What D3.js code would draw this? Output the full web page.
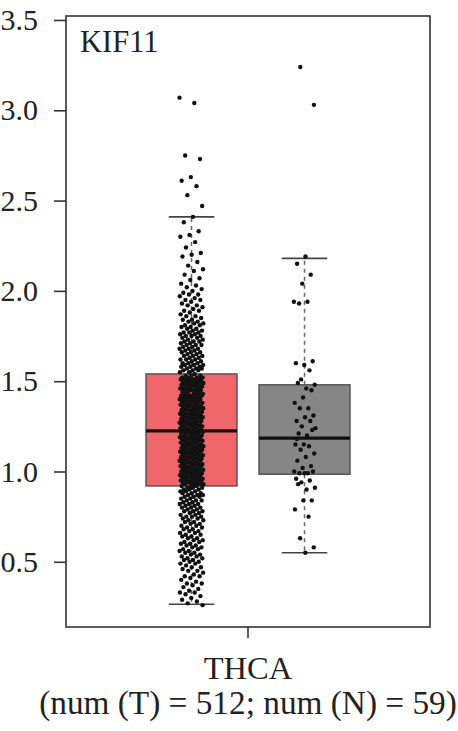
<!DOCTYPE html>
<html><head><meta charset="utf-8">
<script src="https://cdn.jsdelivr.net/npm/d3@7"></script>
<style>html,body{margin:0;padding:0;background:#fff;}svg{display:block;}</style>
</head><body>
<script>
// ---------- data ----------
const cancer = ["THCA"];
const groups = ["T", "N"];
const groupColors = ["#F0666B", "#868686"];
const whiskerLow = [0.265, 0.55];
const q1 = [0.92, 0.985];
const median = [1.225, 1.185];
const q3 = [1.54, 1.48];
const whiskerHigh = [2.41, 2.18];
const yTicks = [0.5, 1.0, 1.5, 2.0, 2.5, 3.0, 3.5];
const geneLabel = "KIF11";
const xLabel = "THCA";
const countLabel = "(num (T) = 512; num (N) = 59)";

const tumorValues = [
3.07,3.04,2.75,2.73,2.63,2.61,2.58,2.53,2.47,2.41,
2.38,2.33,2.31,2.30,2.27,2.24,2.21,2.20,
2.19,2.16,2.14,2.12,2.11,2.09,2.07,2.06,2.04,2.03,2.02,2.01,2.00,
1.99,1.98,1.98,1.97,1.96,1.95,1.95,1.94,1.93,1.92,1.92,1.91,1.90,1.89,1.89,1.88,1.87,1.86,1.86,1.85,1.84,1.84,1.83,1.83,1.82,1.82,1.81,1.81,1.80,1.80,
1.79,1.79,1.78,1.78,1.77,1.77,1.77,1.76,1.76,1.75,1.75,1.75,1.74,1.74,1.73,1.73,1.72,1.72,1.72,1.71,1.71,1.70,1.70,1.70,1.69,1.69,1.68,1.68,1.68,1.67,1.67,1.66,1.66,1.66,1.65,1.65,1.64,1.64,1.64,1.63,1.63,1.62,1.62,1.62,1.61,1.61,1.60,1.60,1.60,1.59,1.59,1.59,1.58,1.58,1.58,1.57,1.57,1.57,1.56,1.56,1.56,1.55,1.55,1.54,
1.53,1.53,1.53,1.52,1.52,1.52,1.52,1.51,1.51,1.51,1.51,1.51,1.50,1.50,1.50,1.50,1.49,1.49,1.49,1.49,1.48,1.48,1.48,1.48,1.48,
1.47,1.47,1.47,1.47,1.46,1.46,1.46,1.46,1.45,1.45,1.45,1.45,1.44,1.44,1.44,1.43,1.43,1.43,1.43,1.42,1.42,1.42,1.42,1.42,
1.41,1.41,1.41,1.41,1.40,1.40,1.40,1.40,1.39,1.39,1.39,1.39,1.38,1.38,1.38,1.38,1.37,1.37,1.37,1.37,1.36,1.36,1.36,1.36,1.36,
1.35,1.35,1.35,1.35,1.34,1.34,1.34,1.34,1.33,1.33,1.33,1.33,1.32,1.32,1.32,1.32,1.31,1.31,1.31,1.31,1.30,1.30,1.30,1.30,1.30,
1.29,1.29,1.29,1.29,1.28,1.28,1.28,1.28,1.27,1.27,1.27,1.27,1.26,1.26,1.26,1.26,1.26,1.25,1.25,1.25,1.25,1.24,1.24,1.24,1.24,1.23,1.23,1.23,1.23,
1.22,1.22,1.22,1.22,1.22,1.21,1.21,1.21,1.21,1.20,1.20,1.20,1.20,1.19,1.19,1.19,1.19,1.19,1.18,1.18,1.18,1.18,1.17,1.17,1.17,1.17,
1.16,1.16,1.16,1.16,1.15,1.15,1.15,1.15,1.15,1.14,1.14,1.14,1.14,1.13,1.13,1.13,1.13,1.12,1.12,1.12,1.12,1.11,1.11,1.11,1.11,1.11,
1.10,1.10,1.10,1.10,1.09,1.09,1.09,1.09,1.08,1.08,1.08,1.08,1.07,1.07,1.07,1.07,1.07,1.06,1.06,1.06,1.06,1.05,1.05,1.05,1.05,
1.04,1.04,1.04,1.04,1.03,1.03,1.03,1.03,1.03,1.02,1.02,1.02,1.02,1.01,1.01,1.01,1.01,1.00,1.00,1.00,1.00,
0.99,0.99,0.99,0.99,0.99,0.98,0.98,0.98,0.98,0.97,0.97,0.97,0.97,0.96,0.96,0.96,0.96,0.95,0.95,0.95,0.95,0.95,0.94,0.94,0.94,0.94,0.93,0.93,0.93,0.93,
0.92,0.92,0.92,0.91,0.91,0.91,0.90,0.90,0.90,0.89,0.89,0.89,0.88,0.88,0.88,0.87,0.87,0.87,0.86,0.86,0.86,0.85,0.85,0.84,0.84,0.84,0.83,0.83,0.82,0.82,0.82,0.81,0.81,0.80,0.80,0.80,
0.79,0.79,0.78,0.78,0.78,0.77,0.77,0.76,0.76,0.75,0.75,0.75,0.74,0.74,0.73,0.73,0.72,0.72,0.71,0.71,0.70,0.70,
0.69,0.69,0.68,0.68,0.67,0.67,0.66,0.66,0.65,0.65,0.64,0.64,0.63,0.63,0.62,0.62,0.61,0.61,0.60,0.60,
0.59,0.59,0.58,0.58,0.57,0.57,0.56,0.56,0.55,0.55,0.54,0.54,0.53,0.53,0.52,0.52,0.51,0.51,0.50,0.50,
0.49,0.49,0.48,0.47,0.47,0.46,0.45,0.45,0.44,0.43,0.42,0.42,0.41,0.40,0.39,0.38,0.38,0.37,0.36,0.35,0.34,0.33,0.33,0.32,0.31,0.30,
0.29,0.28,0.27,0.26
];

const normalValues = [
3.24,3.03,2.19,2.15,2.09,2.04,1.94,1.94,1.93,1.61,1.59,1.60,1.56,1.51,1.48,1.46,1.49,1.45,1.41,1.38,1.35,1.35,1.31,1.30,
1.28,1.28,1.25,1.24,1.20,1.21,1.23,1.15,1.15,1.14,1.12,1.10,1.08,1.06,1.03,1.02,1.00,0.99,0.99,1.00,0.99,0.96,0.95,0.94,
0.91,0.90,0.93,0.84,0.84,0.79,0.75,0.63,0.58,0.55,1.18
];
const pointSets = [tumorValues, normalValues];

// ---------- layout ----------
const W = 458, H = 731;
const plot = {left: 66, right: 430, top: 16, bottom: 627};

const svg = d3.select("body").append("svg").attr("width", W).attr("height", H);

const y = d3.scaleLinear().domain([0.139, 3.522]).range([plot.bottom, plot.top]);
const x0 = d3.scaleBand().domain(cancer).range([plot.left, plot.right]).padding(0);
const x1 = d3.scaleBand().domain(groups).range([69, 295]).paddingInner(0.195).paddingOuter(0.0975);

const serif = "'Liberation Serif', 'Times New Roman', serif";

// frame
svg.append("rect")
  .attr("x", plot.left).attr("y", plot.top)
  .attr("width", plot.right - plot.left).attr("height", plot.bottom - plot.top)
  .attr("fill", "none").attr("stroke", "#333").attr("stroke-width", 1.6);

// y axis
const yAxis = d3.axisLeft(y).tickValues(yTicks).tickFormat(d3.format(".1f")).tickSize(12).tickPadding(16);
const gy = svg.append("g").attr("transform", `translate(${plot.left},0)`).call(yAxis);
gy.select(".domain").remove();
gy.selectAll(".tick line").attr("stroke", "#333").attr("stroke-width", 1.6);
gy.selectAll(".tick text").attr("font-family", serif).attr("font-size", 30).attr("fill", "#222");

// x axis
const xAxis = d3.axisBottom(x0).tickSize(11).tickFormat("");
const gx = svg.append("g").attr("transform", `translate(0,${plot.bottom})`).call(xAxis);
gx.select(".domain").remove();
gx.selectAll(".tick line").attr("stroke", "#333").attr("stroke-width", 1.6);

const cx = x0("THCA") + x0.bandwidth() / 2;
svg.append("text").attr("x", cx).attr("y", 679).attr("text-anchor", "middle")
  .attr("font-family", serif).attr("font-size", 32.5).attr("fill", "#222").text(xLabel);
svg.append("text").attr("x", cx).attr("y", 714).attr("text-anchor", "middle")
  .attr("font-family", serif).attr("font-size", 33.3).attr("fill", "#222").text(countLabel);

svg.append("text").attr("x", 80).attr("y", 52)
  .attr("font-family", serif).attr("font-size", 30.5).attr("fill", "#222").text(geneLabel);

// boxes
const bw = x1.bandwidth();
const jitterHalf = [12, 11];
groups.forEach((g, i) => {
  const left = x0("THCA") + x1(g);
  const mid = left + bw / 2;
  const capHalf = bw / 4;
  const gg = svg.append("g");
  gg.append("rect")
    .attr("x", left).attr("y", y(q3[i]))
    .attr("width", bw).attr("height", y(q1[i]) - y(q3[i]))
    .attr("fill", groupColors[i]).attr("stroke", "#555").attr("stroke-width", 1.5);
  gg.append("line").attr("x1", left).attr("x2", left + bw)
    .attr("y1", y(median[i])).attr("y2", y(median[i]))
    .attr("stroke", "#111").attr("stroke-width", 3.2);
  // whiskers
  [[q3[i], whiskerHigh[i]], [q1[i], whiskerLow[i]]].forEach(([a, b]) => {
    gg.append("line").attr("x1", mid).attr("x2", mid)
      .attr("y1", y(a)).attr("y2", y(b))
      .attr("stroke", "#666").attr("stroke-width", 1.5).attr("stroke-dasharray", "4,4");
    gg.append("line").attr("x1", mid - capHalf).attr("x2", mid + capHalf)
      .attr("y1", y(b)).attr("y2", y(b))
      .attr("stroke", "#444").attr("stroke-width", 1.6);
  });
  // points (deterministic spread for jitter)
  gg.selectAll("circle").data(pointSets[i]).join("circle")
    .attr("cx", (d, k) => mid + (((k * 0.6180339887 + i * 0.31) % 1) - 0.5) * 2 * jitterHalf[i])
    .attr("cy", d => y(d))
    .attr("r", 2.2)
    .attr("fill", "#111");
});
</script>
</body></html>
